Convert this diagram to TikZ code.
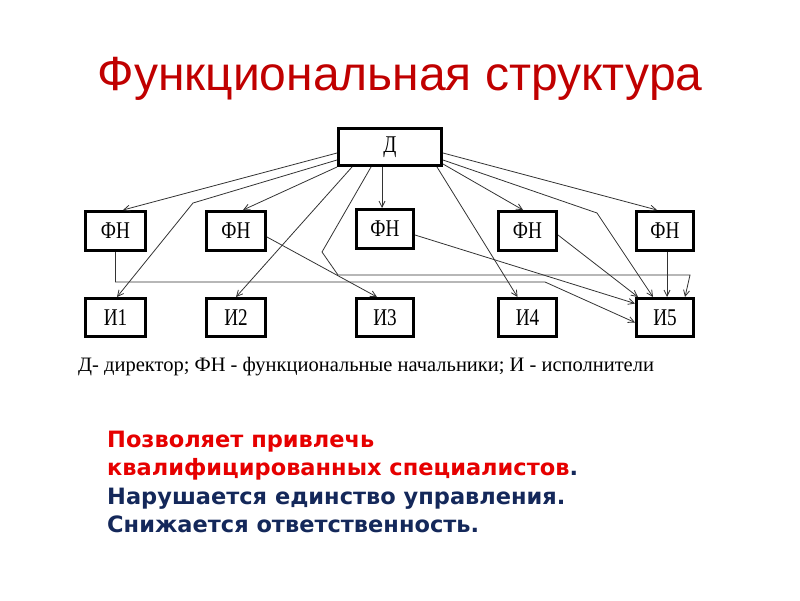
\documentclass[tikz,border=0pt]{standalone}
\usepackage{fontspec}
\usetikzlibrary{arrows.meta,calc}
\setmainfont{Liberation Serif}
\newfontfamily\titlefont{Liberation Sans}
\newfontfamily\diagfont[FakeStretch=0.8]{Liberation Serif}
\newfontfamily\legendfont{Liberation Serif}
\newfontfamily\notefont{DejaVu Sans}
\definecolor{titlered}{HTML}{C00000}
\definecolor{notered}{HTML}{E60000}
\definecolor{noteblue}{HTML}{14285A}
\definecolor{wire}{HTML}{333333}
\tikzset{
  box/.style={draw=black, line width=3pt, fill=white, inner sep=0pt, font=\diagfont\fontsize{24}{24}\selectfont},
  fnbox/.style={box, minimum height=39pt},
  ibox/.style={box, minimum height=38pt},
  link/.style={draw=wire, line width=0.8pt, -{Straight Barb[length=6pt,width=6pt]}},
  note/.style={anchor=base west, inner sep=0pt, font=\notefont\bfseries\fontsize{22.5}{22.5}\selectfont}
}
\begin{document}
\begin{tikzpicture}[x=1pt,y=-1pt]
\useasboundingbox (0,0) rectangle (800,600);
\node[anchor=base, inner sep=0pt, text=titlered, font=\titlefont\fontsize{48}{48}\selectfont] (title) at (400,90) {Функциональная структура};

\node[box, minimum width=103pt, minimum height=37pt] (d) at (390,147) {Д};
\node[fnbox, minimum width=60pt] (f1) at (115.5,231) {ФН};
\node[fnbox, minimum width=59pt] (f2) at (236,231) {ФН};
\node[fnbox, minimum width=57pt] (f3) at (385,229) {ФН};
\node[fnbox, minimum width=58pt] (f4) at (527.5,231) {ФН};
\node[fnbox, minimum width=57pt] (f5) at (665,231) {ФН};
\node[ibox, minimum width=60pt] (i1) at (115.5,317.5) {И1};
\node[ibox, minimum width=59pt] (i2) at (236,317.5) {И2};
\node[ibox, minimum width=57pt] (i3) at (385,317.5) {И3};
\node[ibox, minimum width=58pt] (i4) at (527.5,317.5) {И4};
\node[ibox, minimum width=57pt] (i5) at (665,317.5) {И5};

\coordinate (b1) at (193,203);
\coordinate (b2) at (322,252);
\coordinate (b3) at (338,275);
\coordinate (b4) at (690,275);
\coordinate (b5) at (597,213);
\coordinate (b6) at (545,282);

\draw[link] ([yshift=-6pt]d.west) -- ([xshift=7.5pt]f1.north);
\draw[link] ([yshift=-13pt]d.west) -- (b1) -- ([xshift=1.5pt]i1.north);
\draw[link] (d.south west) -- ([xshift=7pt]f2.north);
\draw[link] ([xshift=15pt]d.south west) -- (i2.north);
\draw[link] ([xshift=34pt]d.south west) -- (b2) -- (b3) -- (b4) -- ([xshift=20pt]i5.north);
\draw[link] ([xshift=-8pt]d.south) -- ([xshift=-3pt]f3.north);
\draw[link] ([xshift=-6pt]d.south east) -- ([xshift=-10pt]i4.north);
\draw[link] ([yshift=-6pt]d.east) -- ([xshift=-8pt]f5.north);
\draw[link] ([yshift=-13pt]d.east) -- (b5) -- ([xshift=-12pt]i5.north);
\draw[link] ([yshift=-17pt]d.east) -- ([xshift=-4.5pt]f4.north);
\draw[link] (f1.south) |- (b6) -- ([yshift=-5pt]i5.west);
\draw[link] ([yshift=-6pt]f2.east) -- ([xshift=-8pt]i3.north);
\draw[link] ([yshift=-6pt]f3.east) -- ([yshift=14pt]i5.west);
\draw[link] ([yshift=-4pt]f4.east) -- ([xshift=-27pt]i5.north);
\draw[link] ([xshift=2pt]f5.south) -- ([xshift=2pt]i5.north);

\node[anchor=base west, inner sep=0pt, font=\legendfont\fontsize{20.5}{20.5}\selectfont] (legend) at (78,371) {Д- директор; ФН - функциональные начальники; И - исполнители};

\node[note, text=notered] (t1) at (107,447) {Позволяет привлечь};
\node[note, text=notered] (t2) at (107,475) {квалифицированных специалистов\textcolor{noteblue}{.}};
\node[note, text=noteblue] (t3) at (107,504) {Нарушается единство управления.};
\node[note, text=noteblue] (t4) at (107,532) {Снижается ответственность.};
\end{tikzpicture}
\end{document}
